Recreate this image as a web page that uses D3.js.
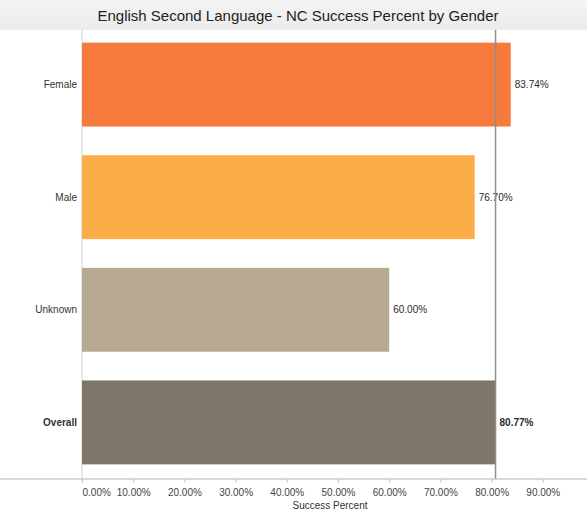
<!DOCTYPE html>
<html>
<head>
<meta charset="utf-8">
<script src="https://cdn.jsdelivr.net/npm/d3@7"></script>
<style>
  body { margin: 0; background: #fff; }
  svg { display: block; font-family: "Liberation Sans", Arial, sans-serif; }
</style>
</head>
<body>
<svg id="chart" width="587" height="514"></svg>
<script>
// data
var categories = ["Female", "Male", "Unknown", "Overall"];
var successPct = [0.8374, 0.7670, 0.6000, 0.8077];
var barColors = ["#f57a3c", "#fbad47", "#b8aa92", "#7e766b"];
var tickValues = [0, 0.1, 0.2, 0.3, 0.4, 0.5, 0.6, 0.7, 0.8, 0.9];
var referenceValue = 0.8077; // overall line

var W = 587, H = 514;
var svg = d3.select("#chart");

// header band
var grad = svg.append("defs").append("linearGradient")
    .attr("id", "hdr").attr("x1", 0).attr("x2", 0).attr("y1", 0).attr("y2", 1);
grad.append("stop").attr("offset", "0%").attr("stop-color", "#f4f4f4");
grad.append("stop").attr("offset", "100%").attr("stop-color", "#ebebeb");
svg.append("rect").attr("x", 0).attr("y", 0).attr("width", W).attr("height", 30)
    .attr("fill", "url(#hdr)");

svg.append("text")
    .attr("x", 298).attr("y", 21)
    .attr("text-anchor", "middle")
    .attr("font-size", 15)
    .attr("fill", "#222")
    .text("English Second Language - NC Success Percent by Gender");

var x = d3.scaleLinear().domain([0, 1]).range([82, 594]);
var y = d3.scaleBand().domain(categories).range([28, 479])
    .paddingInner(0.255).paddingOuter(0.13);

var plotTop = 30, plotBottom = 479;

// left border of the plot
svg.append("line")
    .attr("x1", 82).attr("x2", 82).attr("y1", plotTop).attr("y2", plotBottom)
    .attr("stroke", "#cfcfcf");

// bars
svg.selectAll("rect.bar")
  .data(categories)
  .enter().append("rect")
    .attr("class", "bar")
    .attr("x", x(0))
    .attr("y", function(d) { return y(d); })
    .attr("width", function(d, i) { return x(successPct[i]) - x(0); })
    .attr("height", y.bandwidth())
    .attr("fill", function(d, i) { return barColors[i]; });

// value labels
svg.selectAll("text.val")
  .data(categories)
  .enter().append("text")
    .attr("class", "val")
    .attr("x", function(d, i) { return x(successPct[i]) + 4; })
    .attr("y", function(d) { return y(d) + y.bandwidth() / 2; })
    .attr("dy", "0.35em")
    .attr("font-size", 10)
    .attr("font-weight", function(d) { return d === "Overall" ? "bold" : "normal"; })
    .attr("fill", "#2a2a2a")
    .text(function(d, i) { return (successPct[i] * 100).toFixed(2) + "%"; });

// category labels
svg.selectAll("text.cat")
  .data(categories)
  .enter().append("text")
    .attr("class", "cat")
    .attr("x", 77)
    .attr("y", function(d) { return y(d) + y.bandwidth() / 2; })
    .attr("dy", "0.35em")
    .attr("text-anchor", "end")
    .attr("font-size", 10)
    .attr("font-weight", function(d) { return d === "Overall" ? "bold" : "normal"; })
    .attr("fill", "#333")
    .text(function(d) { return d; });

// reference line
svg.append("line")
    .attr("x1", x(referenceValue)).attr("x2", x(referenceValue))
    .attr("y1", plotTop).attr("y2", plotBottom)
    .attr("stroke", "#8f8f8f").attr("stroke-width", 1.5);

// x axis
var axis = svg.append("g").attr("transform", "translate(0," + plotBottom + ")")
    .call(d3.axisBottom(x).tickValues(tickValues).tickSize(4).tickSizeOuter(0)
      .tickFormat(function(d) { return (d * 100).toFixed(2) + "%"; }));
axis.select(".domain").remove();
axis.selectAll(".tick line").attr("stroke", "#c8c8c8");
axis.selectAll(".tick text")
    .attr("font-size", 10)
    .attr("font-family", "Liberation Sans, Arial, sans-serif")
    .attr("fill", "#444")
    .attr("y", 10);
axis.selectAll(".tick").filter(function(d) { return d === 0; })
    .select("text").attr("text-anchor", "start");

svg.append("line")
    .attr("x1", 0).attr("x2", W).attr("y1", plotBottom).attr("y2", plotBottom)
    .attr("stroke", "#b5b5b5");

svg.append("text")
    .attr("x", 330).attr("y", 509)
    .attr("text-anchor", "middle")
    .attr("font-size", 10)
    .attr("fill", "#333")
    .text("Success Percent");
</script>
</body>
</html>
